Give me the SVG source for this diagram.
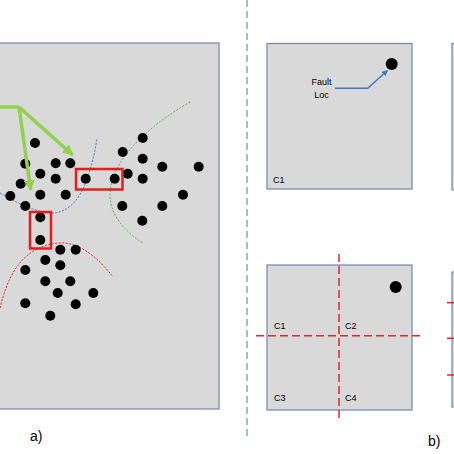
<svg xmlns="http://www.w3.org/2000/svg" width="454" height="454" viewBox="0 0 454 454">
<style>
.panel{fill:#d9d9d9;stroke:#6f86b3;stroke-width:1.2}
.dot{fill:#000}
.lbl{font-family:"Liberation Sans",Arial,sans-serif;font-size:9px;fill:#000}
.cap{font-family:"Liberation Sans",Arial,sans-serif;font-size:14px;fill:#000}
.redbox{fill:none;stroke:#e51c1c;stroke-width:2.5}
.dotted{fill:none;stroke-width:1;stroke-dasharray:2 1.5}
.green{fill:none;stroke:#92d050;stroke-width:3.5}
.reddash{fill:none;stroke:#e0252b;stroke-width:1.5;stroke-dasharray:8 4}
</style>
<defs>
<marker id="ga" viewBox="0 0 10 10" refX="9" refY="5" markerWidth="11" markerHeight="11" markerUnits="userSpaceOnUse" orient="auto"><path d="M0,0 L10,5 L0,10 z" fill="#92d050"/></marker>
<marker id="ba" viewBox="0 0 10 10" refX="9" refY="5" markerWidth="6" markerHeight="6" markerUnits="userSpaceOnUse" orient="auto"><path d="M0,0 L10,5 L0,10 z" fill="#4472c4"/></marker>
</defs>

<rect width="454" height="454" fill="#ffffff"/>

<g id="panel-a">
<rect class="panel" x="-2" y="43" width="221" height="366"/>
<path class="dotted" stroke="#4472c4" d="M0,193 Q35,214 55,213 Q75,210 86,182 Q94,160 97,138"/>
<path class="dotted" stroke="#70ad47" d="M190,102 C150,125 110,160 110,195 C110,215 125,232 143,243"/>
<path class="dotted" stroke="#e0252b" d="M0,308 C8,275 22,247 58,243 C80,241 100,260 113,277"/>
<g id="dots-a">
<circle class="dot" cx="35" cy="143" r="5"/>
<circle class="dot" cx="142.7" cy="138" r="5"/>
<circle class="dot" cx="122.7" cy="152" r="5"/>
<circle class="dot" cx="25.3" cy="163.7" r="5"/>
<circle class="dot" cx="55.7" cy="163.3" r="5"/>
<circle class="dot" cx="70.3" cy="163.3" r="5"/>
<circle class="dot" cx="142.7" cy="158.7" r="5"/>
<circle class="dot" cx="162.3" cy="166.7" r="5"/>
<circle class="dot" cx="198.7" cy="166.7" r="5"/>
<circle class="dot" cx="40.3" cy="173.7" r="5"/>
<circle class="dot" cx="55.7" cy="178.7" r="5"/>
<circle class="dot" cx="85.7" cy="178.7" r="5"/>
<circle class="dot" cx="114.7" cy="178.7" r="5"/>
<circle class="dot" cx="127.7" cy="173.7" r="5"/>
<circle class="dot" cx="142.7" cy="178.7" r="5"/>
<circle class="dot" cx="20.7" cy="183.7" r="5"/>
<circle class="dot" cx="10.3" cy="196" r="5"/>
<circle class="dot" cx="40.3" cy="194.7" r="5"/>
<circle class="dot" cx="65.7" cy="194.7" r="5"/>
<circle class="dot" cx="183" cy="194.7" r="5"/>
<circle class="dot" cx="25.3" cy="206" r="5"/>
<circle class="dot" cx="122.3" cy="206" r="5"/>
<circle class="dot" cx="162.3" cy="206" r="5"/>
<circle class="dot" cx="142.3" cy="220.7" r="5"/>
<circle class="dot" cx="40.3" cy="217.3" r="5"/>
<circle class="dot" cx="40.3" cy="240" r="5"/>
<circle class="dot" cx="60.3" cy="249.7" r="5"/>
<circle class="dot" cx="75.7" cy="249.7" r="5"/>
<circle class="dot" cx="45.3" cy="260" r="5"/>
<circle class="dot" cx="25.3" cy="270" r="5"/>
<circle class="dot" cx="60.3" cy="265.3" r="5"/>
<circle class="dot" cx="45.3" cy="281.3" r="5"/>
<circle class="dot" cx="70.3" cy="281.3" r="5"/>
<circle class="dot" cx="57.7" cy="293" r="5"/>
<circle class="dot" cx="93.3" cy="293" r="5"/>
<circle class="dot" cx="25.3" cy="303.3" r="5"/>
<circle class="dot" cx="75.7" cy="304.3" r="5"/>
<circle class="dot" cx="50.3" cy="315.7" r="5"/>
</g>
<rect class="redbox" x="76" y="169" width="46.5" height="20.5"/>
<rect class="redbox" x="30" y="212" width="21" height="36.5"/>
<g id="green-arrows">
<path class="green" d="M0,107 L19,107"/>
<path class="green" d="M19,107 L72.7,155" marker-end="url(#ga)"/>
<path class="green" d="M19,107 L30.7,190" marker-end="url(#ga)"/>
</g>
<text class="cap" x="30" y="441">a)</text>
</g>

<line x1="247" y1="0" x2="247" y2="439" stroke="#8da4c4" stroke-width="1.5" stroke-dasharray="7 4"/>

<g id="panel-b1">
<rect class="panel" x="267" y="43.5" width="145" height="145.5"/>
<circle class="dot" cx="391.7" cy="64" r="6"/>
<text class="lbl" x="321.5" y="85" text-anchor="middle">Fault</text>
<text class="lbl" x="321.5" y="98" text-anchor="middle">Loc</text>
<path d="M335,88.3 L367.7,88.3 L387.5,70.5" fill="none" stroke="#4472c4" stroke-width="1.4" marker-end="url(#ba)"/>
<text class="lbl" x="273" y="183">C1</text>
</g>

<g id="panel-b2">
<rect class="panel" x="267" y="265" width="145" height="145"/>
<circle class="dot" cx="395.7" cy="287" r="6"/>
<line class="reddash" x1="339" y1="254" x2="339" y2="419"/>
<line class="reddash" x1="256" y1="335.7" x2="421" y2="335.7"/>
<text class="lbl" x="274" y="329">C1</text>
<text class="lbl" x="345" y="329">C2</text>
<text class="lbl" x="274" y="401">C3</text>
<text class="lbl" x="345" y="401">C4</text>
</g>

<g id="panel-b3">
<rect class="panel" x="452" y="43.5" width="10" height="146.5" stroke-width="2"/>
</g>
<g id="panel-b4">
<rect class="panel" x="452" y="272" width="10" height="135" stroke-width="2"/>
<line x1="447" y1="302.7" x2="454" y2="302.7" stroke="#e0252b" stroke-width="1.5"/>
<line x1="447" y1="338.3" x2="454" y2="338.3" stroke="#e0252b" stroke-width="1.5"/>
<line x1="447" y1="375" x2="454" y2="375" stroke="#e0252b" stroke-width="1.5"/>
</g>
<text class="cap" x="428" y="446">b)</text>
</svg>
